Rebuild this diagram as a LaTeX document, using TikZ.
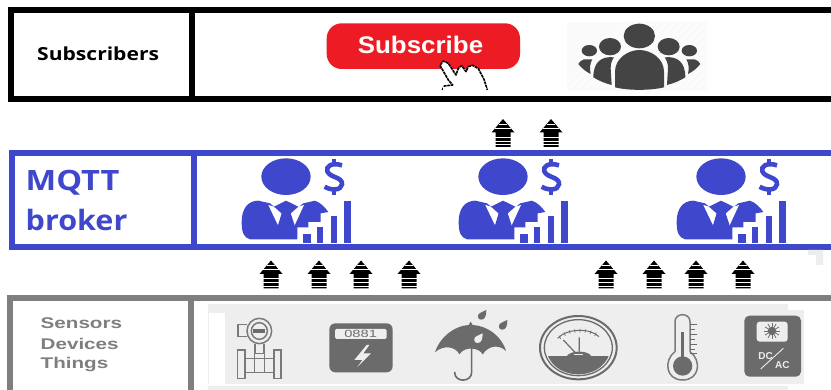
\documentclass[tikz,border=0pt]{standalone}
\usepackage{fontspec}
\setmainfont{Liberation Sans}
\newfontfamily\opensans{Open Sans}
\definecolor{brokerblue}{HTML}{3F48CC}
\definecolor{thinggrey}{HTML}{7F7F7F}
\definecolor{iconpanel}{HTML}{EEEEEE}
\definecolor{icondark}{HTML}{6B6B6B}
\definecolor{peopledark}{HTML}{444444}
\definecolor{subred}{HTML}{ED1C24}
\tikzset{
  band/.style={line width=5.8pt,line join=miter},
  labelnode/.style={anchor=west,inner sep=0pt,align=left},
  iconline/.style={draw=icondark!90!white,line width=1.5pt},
  striparrow/.pic={
    \fill[black] (0,0)--(11.5,13.5)--(7.5,13.5)--(7.5,28)--(-7.5,28)--(-7.5,13.5)--(-11.5,13.5)--cycle;
    \foreach \yy/\hw in {5/4,9/8,18/8,22/8,25.3/8}
      \draw[white,line width=.55pt] (-\hw,\yy)--(\hw,\yy);
  },
  raindrop/.pic={
    \path[pic actions,scale=1/3] (14,-17) .. controls (14,0) and (10,12) .. (-1,12) .. controls (-12,12) and (-14,0) .. (-8,-6) .. controls (-3,-11) and (8,-13) .. (14,-17) -- cycle;
  },
  brokerman/.pic={
    \begin{scope}[scale=1/3]
      \fill[brokerblue] (258,80) ellipse (74 and 55);
      \draw[brokerblue,line width=4.6pt] (426,46) .. controls (395,36) and (376,50) .. (382,64) .. controls (390,84) and (428,80) .. (426,103) .. controls (424,122) and (392,122) .. (374,110);
      \draw[brokerblue,line width=4.6pt] (402,27)--(402,45) (402,118)--(402,136);
      % body
      \fill[brokerblue] (125,215) .. controls (125,175) and (145,152) .. (175,152) -- (210,160) -- (258,200) -- (310,160) -- (345,152) .. controls (362,158) and (375,172) .. (385,186) -- (362,190) -- (362,216) -- (325,216) -- (325,232) -- (292,232) -- (292,268) -- (150,268) .. controls (132,262) and (125,250) .. (125,215) -- cycle;
      \fill[white] (205,165)--(222,170)--(245,190)--(236,230)--cycle;
      \fill[white] (312,165)--(295,170)--(272,190)--(282,230)--cycle;
      \fill[brokerblue] (222,170)--(258,152)--(295,170)--(272,190)--(286,232)--(258,258)--(232,232)--(245,190)--cycle;
      % bars
      \fill[brokerblue] (308,252) rectangle (332,278);
      \fill[brokerblue] (352,230) rectangle (368,278);
      \fill[brokerblue] (392,198) rectangle (412,278);
      \fill[brokerblue] (432,152) rectangle (452,278);
    \end{scope}
  }
}
\begin{document}
\begin{tikzpicture}[x=1pt,y=-1pt]
\useasboundingbox (0,0) rectangle (831,390);
\fill[white] (0,0) rectangle (831,390);

% ---------- Subscribers row
\draw[band,black] (831,9.8)--(10.6,9.8)--(10.6,99.4)--(831,99.4);
\draw[band,black] (192.2,9.8)--(192.2,99.4);
\node[labelnode,font=\opensans\bfseries\fontsize{18}{20}\selectfont,text=black] (sublabel) at (37,54) {\scalebox{1.17}[1]{Subscribers}};

\fill[subred,rounded corners=15pt] (326.7,23.3) rectangle (520,69);
\node[font=\bfseries\fontsize{24}{28}\selectfont,text=white,inner sep=0pt] (subbutton) at (420.5,44.5) {\scalebox{1.08}[1]{Subscribe}};

% hand cursor
\begin{scope}[shift={(200,0)},scale=1/3]
  \filldraw[fill=white,draw=black,line width=1.6pt,dash pattern=on 3pt off .7pt,line join=round]
   (727,270)--(733,258)--(758,255)--(745,240)--(720,196)--(730,183)--(745,190)--(768,225)--(775,205)--(785,197)--(798,215)--(805,200)--(818,196)--(835,206)--(852,238)--(862,270);
  \fill[white] (730,262) rectangle (858,272);
\end{scope}

% people icon
\begin{scope}[shift={(560,0)},scale=1/3]
  \fill[black!2] (20,65) rectangle (440,272);
  \begin{scope}
    \clip (20,65) rectangle (440,272);
    \foreach \k in {0,24,...,660}
      \draw[white,line width=1pt] (\k,272)--(\k+210,62);
  \end{scope}
  \fill[peopledark] (238,108) ellipse (47 and 37);
  \fill[peopledark] (165,262)--(165,215) .. controls (165,175) and (205,150) .. (238,150) .. controls (272,150) and (312,175) .. (312,215)--(312,262) .. controls (270,272) and (205,272) .. (165,262)--cycle;
  \foreach \sx/\ox in {1/0,-1/476}{
    \begin{scope}[xshift=\ox,xscale=\sx]
      \fill[peopledark] (150,140) ellipse (33 and 26);
      \fill[peopledark] (88,152) ellipse (23 and 17);
      \fill[peopledark] (162,172) .. controls (125,168) and (100,185) .. (100,232) .. controls (118,243) and (135,250) .. (155,255) -- (152,205) .. controls (152,192) and (155,182) .. (162,172)--cycle;
      \fill[peopledark] (97,178) -- (72,178) .. controls (64,180) and (58,186) .. (55,192) .. controls (65,205) and (78,215) .. (92,222) .. controls (88,205) and (90,190) .. (97,178)--cycle;
    \end{scope}
  }
\end{scope}

% ---------- MQTT broker row
\draw[band,brokerblue] (831,153.2)--(12,153.2)--(12,247)--(831,247);
\draw[band,brokerblue] (194,153.2)--(194,247);
\node[labelnode,font=\opensans\bfseries\fontsize{28}{32}\selectfont,text=brokerblue] (mqttlabel) at (25.5,183) {\scalebox{1.16}[1]{MQTT}};
\node[labelnode,font=\opensans\bfseries\fontsize{28}{32}\selectfont,text=brokerblue] (brokerlabel) at (25.5,220.5) {\scalebox{1.09}[1]{broker}};
\pic at (200,150) {brokerman};
\pic at (417,150) {brokerman};
\pic at (635,150) {brokerman};

% stray mark
\fill[black!7] (808,250) rectangle (823,255) (816,255) rectangle (823,265);

% ---------- arrows
\foreach \xx in {503,551} \pic at (\xx,119) {striparrow};
\foreach \xx in {271,319,361,409,606,654,696,743} \pic at (\xx,260.5) {striparrow};

% ---------- Sensors row
\fill[iconpanel] (208,304) rectangle (788,390);
\fill[iconpanel] (788,310) rectangle (804,384.5);
\fill[white] (208,384.5) rectangle (788,386.5);
\fill[white] (209,313) rectangle (225,384.5);
\draw[band,thinggrey] (831,298)--(9.8,298)--(9.8,390);
\draw[band,thinggrey] (191,298)--(191,390);
\foreach \nm/\yy/\tx in {senslabel/323/Sensors,devlabel/344/Devices,thinglabel/365/Things}
  \node[labelnode,font=\bfseries\fontsize{15.5}{18}\selectfont,text=thinggrey] (\nm) at (40.5,\yy) {\scalebox{1.33}[1]{\tx}};

\begin{scope}[shift={(200,295)},scale=1/3]
  % flow meter
  \draw[iconline] (178,108) ellipse (37 and 38);
  \draw[iconline] (178,108) ellipse (24 and 25);
  \fill[icondark] (160,101) rectangle (196,113);
  \draw[iconline] (141,88)--(114,88)--(114,124)--(141,124);
  \draw[iconline] (165,146)--(165,175) (192,146)--(192,175);
  \draw[iconline] (112,165) rectangle (135,250);
  \draw[iconline] (222,165) rectangle (243,250);
  \draw[iconline] (135,190)--(222,190) (135,232)--(222,232);
  \draw[iconline] (163,175) rectangle (194,232);
  % electricity meter
  \fill[icondark,rounded corners=6pt] (388,85) rectangle (578,232);
  \fill[iconpanel,rounded corners=1.5pt] (405,102) rectangle (560,132);
  \node[inner sep=0pt,font=\fontsize{10.5}{11}\selectfont,text=icondark] (meterread) at (482,118) {\scalebox{1.4}[1]{0881}};
  \fill[iconpanel] (500,150)--(463,195)--(487,195)--(472,216)--(513,175)--(490,175)--(508,150)--cycle;
  % umbrella
  \fill[icondark] (705,172) .. controls (720,125) and (765,92) .. (806,90) -- (812,80) -- (818,90) .. controls (860,92) and (905,122) .. (918,168) .. controls (900,150) and (868,148) .. (848,178) .. controls (838,158) and (795,152) .. (778,178) .. controls (768,155) and (730,148) .. (705,172) -- cycle;
  \draw[icondark,line width=1.6pt,line cap=round] (815,150)--(815,232) .. controls (815,262) and (764,264) .. (764,232);
  \pic[fill=icondark] at (845,62) {raindrop};
  \pic[fill=icondark] at (908,92) {raindrop};
  \pic[fill=iconpanel] at (834,132) {raindrop};
\end{scope}

\begin{scope}[shift={(520,295)},scale=1/3]
  % gauge
  \draw[icondark,line width=2pt] (175,158) ellipse (115 and 95);
  \draw[icondark,line width=1.3pt] (175,158) ellipse (102 and 84);
  \begin{scope}
    \clip (175,158) ellipse (96 and 80);
    \fill[icondark] (60,183) rectangle (290,250);
  \end{scope}
  \draw[icondark,line width=1pt] (113,130) .. controls (140,100) and (210,98) .. (237,125);
  \draw[icondark,line width=.7pt] (122,132)--(117,122) (136,122)--(132,112) (150,116)--(148,106) (165,113)--(164,103) (180,112)--(180,102) (195,113)--(197,103) (210,117)--(213,107) (224,123)--(229,113);
  \draw[icondark,line width=1.2pt] (178,127)--(178,170) (130,135)--(165,172);
  \fill[icondark] (140,184) .. controls (150,165) and (205,165) .. (214,184) -- cycle;
  \fill[iconpanel] (163,176) rectangle (188,179);
  % thermometer
  \draw[iconline] (465,170)--(465,80) .. controls (465,52) and (510,52) .. (510,80)--(510,170) .. controls (545,195) and (540,255) .. (488,255) .. controls (436,255) and (431,195) .. (465,170);
  \fill[icondark] (488,213) ellipse (29 and 29);
  \fill[icondark] (483,110) rectangle (493,195);
  \foreach \yy/\xe in {88/532,103/525,118/532,133/525,148/532,163/525,176/532}
    \draw[icondark,line width=.9pt] (510,\yy)--(\xe,\yy);
  % DC/AC
  \fill[icondark,rounded corners=5pt] (673,62) rectangle (843,245);
  \fill[iconpanel,rounded corners=3pt] (710,80) rectangle (803,140);
  \fill[icondark] (756,108) circle (13);
  \foreach \a in {0,30,...,330}
    \draw[icondark,line width=.8pt] (756,108) ++(\a:13)--++(\a:11);
  \draw[iconpanel,line width=.9pt] (722,222)--(790,160);
  \node[inner sep=0pt,font=\bfseries\fontsize{10}{11}\selectfont,text=iconpanel] (dclabel) at (737,182) {DC};
  \node[inner sep=0pt,font=\bfseries\fontsize{10}{11}\selectfont,text=iconpanel] (aclabel) at (787,209) {AC};
\end{scope}
\end{tikzpicture}
\end{document}
